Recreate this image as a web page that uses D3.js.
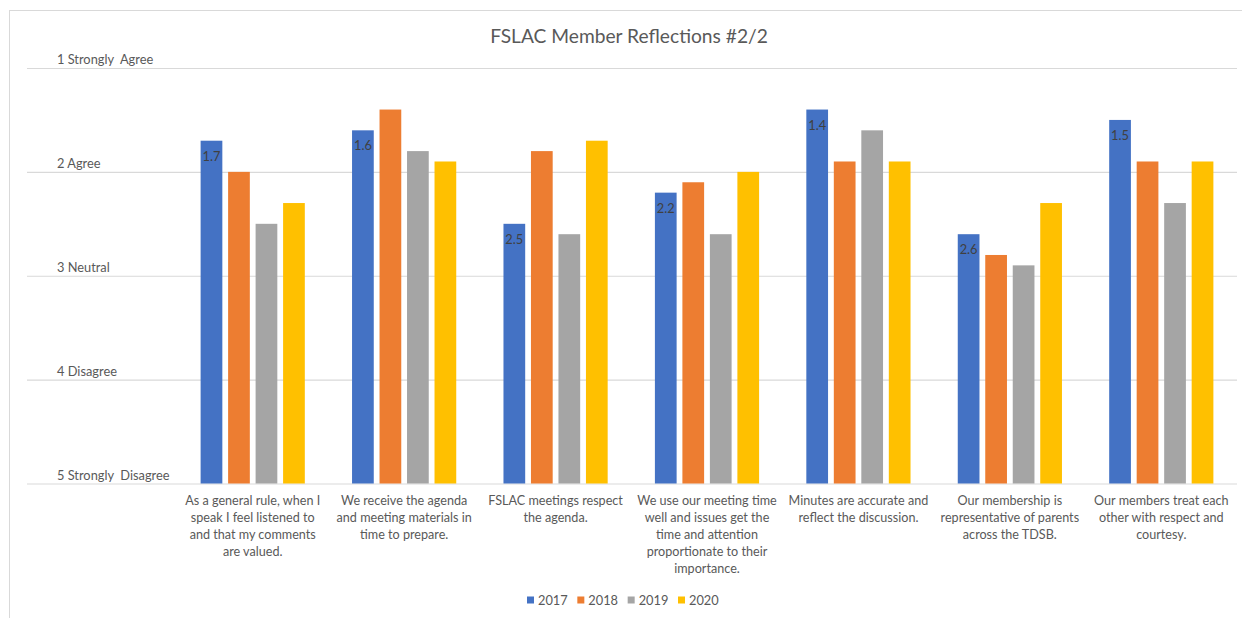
<!DOCTYPE html>
<html>
<head>
<meta charset="utf-8">
<script src="https://cdn.jsdelivr.net/npm/d3@7"></script>
<style>
  html, body { margin: 0; padding: 0; background: #fff; }
  svg { display: block; font-family: Lato, "Open Sans", sans-serif; }
</style>
</head>
<body>
<svg id="chart" width="1242" height="618"></svg>
<script>
const title = "FSLAC Member Reflections #2/2";
const categories = [
  "As a general rule, when I\nspeak I feel listened to\nand that my comments\nare valued.",
  "We receive the agenda\nand meeting materials in\ntime to prepare.",
  "FSLAC meetings respect\nthe agenda.",
  "We use our meeting time\nwell and issues get the\ntime and attention\nproportionate to their\nimportance.",
  "Minutes are accurate and\nreflect the discussion.",
  "Our membership is\nrepresentative of parents\nacross the TDSB.",
  "Our members treat each\nother with respect and\ncourtesy."
];
const years = ["2017", "2018", "2019", "2020"];
const values2017 = [1.7, 1.6, 2.5, 2.2, 1.4, 2.6, 1.5];
const values2018 = [2.0, 1.4, 1.8, 2.1, 1.9, 2.8, 1.9];
const values2019 = [2.5, 1.8, 2.6, 2.6, 1.6, 2.9, 2.3];
const values2020 = [2.3, 1.9, 1.7, 2.0, 1.9, 2.3, 1.9];
const yTickValues = [1, 2, 3, 4, 5];
const yTickLabels = ["1 Strongly  Agree", "2 Agree", "3 Neutral", "4 Disagree", "5 Strongly  Disagree"];
const colors = ["#4472C4", "#ED7D31", "#A5A5A5", "#FFC000"];

const seriesValues = [values2017, values2018, values2019, values2020];
const svg = d3.select("#chart");
const textColor = "#595959";

// Outer frame
svg.append("rect").attr("x", 9.5).attr("y", 10.5).attr("width", 1260).attr("height", 640)
  .attr("fill", "none").attr("stroke", "#D9D9D9").attr("stroke-width", 1);

// font calibration helper
function fitSize(text, targetWidth, base) {
  const t = svg.append("text").attr("font-size", base).text(text);
  const w = t.node().getComputedTextLength();
  t.remove();
  return base * targetWidth / w;
}
const catFont = fitSize("As a general rule, when I", 135, 13);
const titleFont = fitSize(title, 278, 18);
const axisFont = fitSize("1 Strongly  Agree", 93, 13);

const y = d3.scaleLinear().domain([1, 5]).range([68, 483.5]);
const x0 = d3.scaleBand().domain(categories).range([177, 1237]).padding(0);
const groupW = 104.2;
const x1 = d3.scaleBand().domain(years)
  .range([(x0.bandwidth() - groupW) / 2, (x0.bandwidth() + groupW) / 2])
  .paddingInner(0.21).paddingOuter(0);

// Title
svg.append("text").attr("x", 629).attr("y", 43).attr("text-anchor", "middle")
  .attr("font-size", titleFont).attr("fill", textColor).text(title);

// Gridlines
const yAxis = d3.axisLeft(y).tickValues(yTickValues).tickSize(-(1237 - 27)).tickFormat("");
const gAxis = svg.append("g").attr("transform", "translate(27,0)").call(yAxis);
gAxis.select(".domain").remove();
gAxis.selectAll(".tick line").attr("stroke", "#D9D9D9").attr("stroke-width", 1.2);

// Y labels (above gridlines)
svg.append("g").selectAll("text").data(yTickValues).join("text")
  .attr("x", 57).attr("y", d => y(d) - 4)
  .attr("font-size", axisFont).attr("fill", textColor)
  .attr("xml:space", "preserve").style("white-space", "pre")
  .text((d, i) => yTickLabels[i]);

// Bars
const rows = categories.map((c, ci) => ({ c, vals: years.map((yr, si) => ({ yr, si, v: seriesValues[si][ci] })) }));
const groups = svg.append("g").selectAll("g").data(rows).join("g")
  .attr("transform", d => `translate(${x0(d.c)},0)`);
groups.selectAll("rect").data(d => d.vals).join("rect")
  .attr("x", d => x1(d.yr)).attr("width", x1.bandwidth())
  .attr("y", d => y(d.v)).attr("height", d => y(5) - y(d.v))
  .attr("fill", d => colors[d.si]);

// Data labels on 2017
groups.append("text")
  .attr("x", x1("2017") + x1.bandwidth() / 2)
  .attr("y", d => y(d.vals[0].v) + 20)
  .attr("text-anchor", "middle").attr("font-size", axisFont).attr("fill", "#404040")
  .text(d => d3.format(".1f")(d.vals[0].v));

// Category labels
const catG = svg.append("g").selectAll("text").data(categories).join("text")
  .attr("text-anchor", "middle").attr("font-size", catFont).attr("fill", textColor);
catG.each(function (d) {
  const t = d3.select(this);
  d.split("\n").forEach((line, i) => {
    t.append("tspan").attr("x", x0(d) + x0.bandwidth() / 2).attr("y", 505 + i * 17).text(line);
  });
});

// Legend
const legend = svg.append("g");
const legendX = d3.scalePoint().domain(years).range([527, 678]);
years.forEach((yr, i) => {
  const lx = legendX(yr);
  legend.append("rect").attr("x", lx).attr("y", 596.5).attr("width", 7).attr("height", 7).attr("fill", colors[i]);
  legend.append("text").attr("x", lx + 11).attr("y", 605).attr("font-size", axisFont)
    .attr("fill", textColor).text(yr);
});
</script>
</body>
</html>
